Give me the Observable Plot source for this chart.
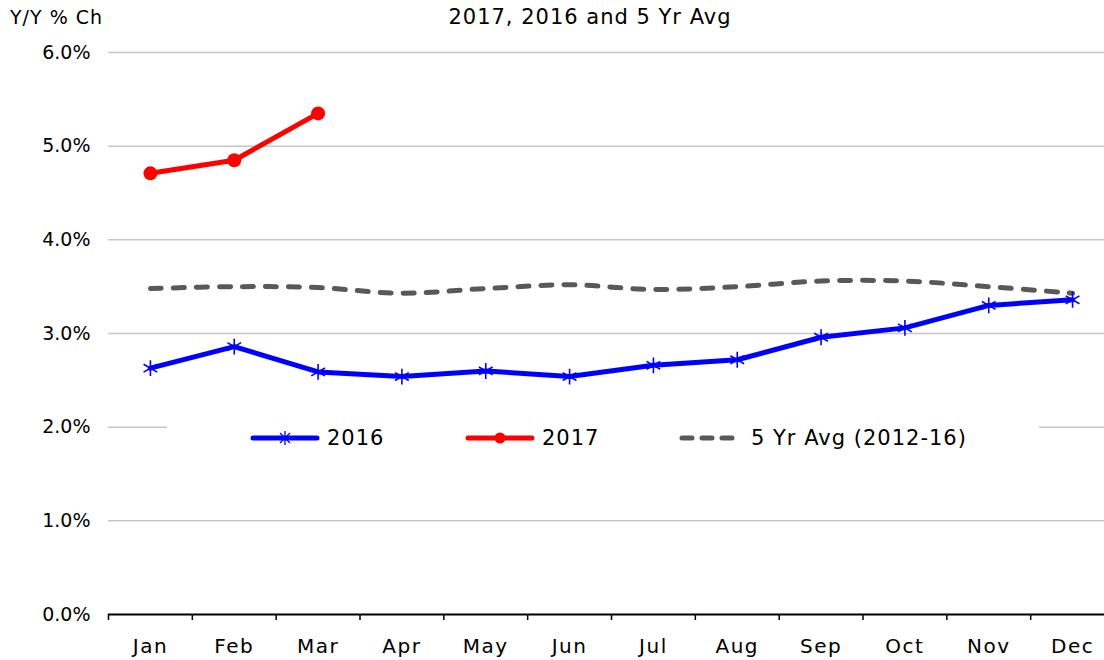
<!DOCTYPE html>
<html><head><meta charset="utf-8">
<script src="https://cdn.jsdelivr.net/npm/d3@7"></script>
<script src="https://cdn.jsdelivr.net/npm/@observablehq/plot@0.6"></script>
<style>
body{margin:0;background:#fff;font-family:"DejaVu Sans",sans-serif;color:#000;}
#wrap{position:relative;width:1104px;height:660px;overflow:hidden;}
#title{position:absolute;left:0;width:1180px;top:5px;text-align:center;font-size:21px;letter-spacing:1px;}
#ylab{position:absolute;left:10px;top:6px;font-size:19px;letter-spacing:1px;}
#legend{position:absolute;left:167px;top:418px;width:872px;height:40px;background:#fff;}
.item{position:absolute;top:0;height:40px;display:flex;align-items:center;font-size:21px;letter-spacing:1px;}
.item svg{margin-right:7px;}
g[aria-label="x-axis tick label"] text{letter-spacing:1.5px;}
</style></head><body>
<div id="wrap"></div>
<script>
const months = ["Jan","Feb","Mar","Apr","May","Jun","Jul","Aug","Sep","Oct","Nov","Dec"];
const s2016 = [2.63,2.86,2.59,2.54,2.60,2.54,2.66,2.72,2.96,3.06,3.30,3.36];
const s2017 = [4.71,4.85,5.35];
const sAvg = [3.48,3.50,3.49,3.43,3.48,3.52,3.47,3.50,3.56,3.56,3.50,3.43];
const yTicks = [0,1,2,3,4,5,6];
const seriesNames = ["2016","2017","5 Yr Avg (2012-16)"];
const titleText = "2017, 2016 and 5 Yr Avg";
const yLabel = "Y/Y % Ch";

const toRows = arr => arr.map((v,i)=>({m:i+1, v}));
const d2016 = toRows(s2016), d2017 = toRows(s2017), dAvg = toRows(sAvg);
const centers = months.map((_,i)=>i+1);
const bounds = d3.range(0, months.length+1).map(i=>i+0.5);
const fmt = d3.format(".1%");

const chart = Plot.plot({
  width:1104, height:660,
  marginLeft:108, marginRight:0, marginTop:52, marginBottom:46,
  style:{fontFamily:"DejaVu Sans, sans-serif", fontSize:"18px", color:"#000", background:"#fff"},
  x:{type:"linear", domain:[0.5, months.length+0.5], range:[108,1114], label:null},
  y:{domain:[0,6], range:[614,52], label:null},
  marks:[
    Plot.ruleY(yTicks.filter(d=>d>0), {stroke:"#c6c6c6", strokeWidth:1.5}),
    Plot.axisY({ticks:yTicks, tickSize:0, tickPadding:18, tickFormat:d=>fmt(d/100), fontSize:19, label:null}),
    Plot.axisX({ticks:bounds, tickSize:6, tickFormat:()=>"", strokeWidth:1.5, label:null}),
    Plot.axisX({ticks:centers, tickSize:0, tickPadding:24, tickFormat:d=>months[d-1], fontSize:20, label:null}),
    Plot.ruleY([0], {stroke:"#000", strokeWidth:2}),
    Plot.line(dAvg, {x:"m", y:"v", stroke:"#595959", strokeWidth:5, strokeDasharray:"11,12", strokeLinecap:"round", curve:"catmull-rom"}),
    Plot.line(d2016, {x:"m", y:"v", stroke:"#0000ff", strokeWidth:5}),
    Plot.dot(d2016, {x:"m", y:"v", symbol:"asterisk", r:7.5, stroke:"#0000ff", strokeWidth:1.6}),
    Plot.line(d2017, {x:"m", y:"v", stroke:"#ff0000", strokeWidth:5}),
    Plot.dot(d2017, {x:"m", y:"v", r:7, fill:"#ff0000"})
  ]
});
const wrap = document.getElementById("wrap");
wrap.appendChild(chart);

const t = document.createElement("div"); t.id="title"; t.textContent=titleText; wrap.appendChild(t);
const yl = document.createElement("div"); yl.id="ylab"; yl.textContent=yLabel; wrap.appendChild(yl);

const lg = document.createElement("div"); lg.id="legend"; wrap.appendChild(lg);
const sw = [
 `<svg width="70" height="20"><line x1="3" y1="10" x2="67" y2="10" stroke="#0000ff" stroke-width="5" stroke-linecap="round"/><g stroke="#0000ff" stroke-width="1.3"><line x1="35" y1="3" x2="35" y2="17"/><line x1="30" y1="5" x2="40" y2="15"/><line x1="40" y1="5" x2="30" y2="15"/></g></svg>`,
 `<svg width="70" height="20"><line x1="3" y1="10" x2="67" y2="10" stroke="#ff0000" stroke-width="5" stroke-linecap="round"/><circle cx="35" cy="10" r="5.5" fill="#ff0000"/></svg>`,
 `<svg width="66" height="20"><line x1="4" y1="10" x2="62" y2="10" stroke="#595959" stroke-width="5" stroke-dasharray="10,10" stroke-linecap="round"/></svg>`
];
const lefts = [83, 298, 511];
seriesNames.forEach((n,i)=>{
  const it = document.createElement("div"); it.className="item"; it.style.left=lefts[i]+"px";
  it.innerHTML = sw[i] + `<span>${n}</span>`;
  lg.appendChild(it);
});
</script>
</body></html>
